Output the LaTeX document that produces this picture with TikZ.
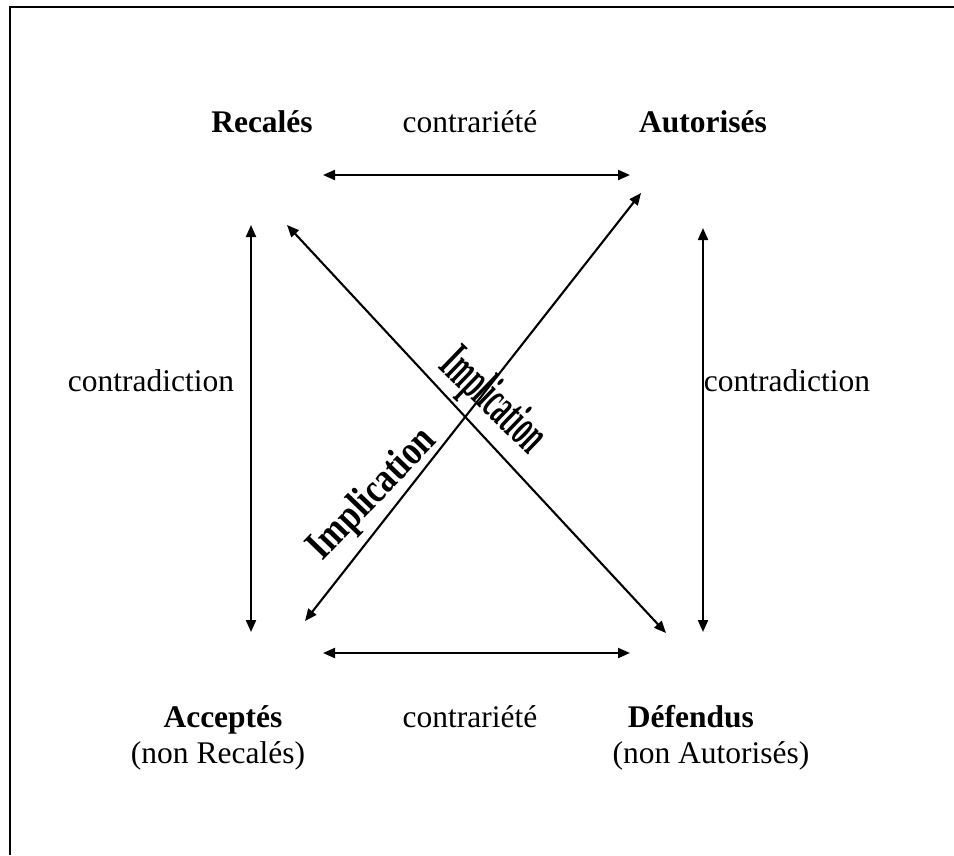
\documentclass[tikz,border=0pt]{standalone}
\usepackage{fontspec}
\setmainfont{Liberation Serif}
\usetikzlibrary{arrows.meta}
\begin{document}
\begin{tikzpicture}[x=1pt,y=-1pt,
  every node/.style={inner sep=0pt, font=\fontsize{31.5}{36}\selectfont},
  term/.style={font=\fontsize{31.5}{36}\selectfont\bfseries},
  link/.style={line width=2.1pt,
    {Triangle[length=12pt,width=10pt]}-{Triangle[length=12pt,width=10pt]}}]
\useasboundingbox (0,0) rectangle (954,855);
% frame (open at right and bottom)
\draw[line width=2.5pt] (10,855) -- (10,7) -- (954,7);

% corner terms and relation labels
\node[term, anchor=base] (rec) at (262,132) {Recalés};
\node[anchor=base] (ctop) at (470,132) {contrariété};
\node[term, anchor=base] (aut) at (703,132) {Autorisés};
\node[anchor=base] (cleft) at (151,391) {contradiction};
\node[anchor=base] (cright) at (787,391) {contradiction};
\node[term, anchor=base] (acc) at (223,727) {Acceptés};
\node[anchor=base] (accnote) at (218,763) {(non Recalés)};
\node[anchor=base] (cbot) at (470,727) {contrariété};
\node[term, anchor=base] (def) at (691,727) {Défendus};
\node[anchor=base] (defnote) at (711,763) {(non Autorisés)};

% arrow end points
\coordinate (topL) at (323,175);
\coordinate (topR) at (630,175);
\coordinate (botL) at (323,653);
\coordinate (botR) at (630,653);
\coordinate (leftT) at (251,225);
\coordinate (leftB) at (251,632);
\coordinate (rightT) at (703,228);
\coordinate (rightB) at (703,632);
\coordinate (recD) at (287,225);
\coordinate (defD) at (666,633);
\coordinate (accD) at (305,621);
\coordinate (autD) at (641,193);

\draw[link] (topL) -- (topR);
\draw[link] (botL) -- (botR);
\draw[link] (leftT) -- (leftB);
\draw[link] (rightT) -- (rightB);
\draw[link] (recD) -- (defD);
\draw[link] (accD) -- (autD);

% implication labels
\node[rotate=46] (implA) at (373,495)
  {\resizebox{166pt}{29pt}{\bfseries Implication}};
\node[rotate=-44] (implB) at (492,402)
  {\resizebox{126pt}{37pt}{\bfseries Implication}};
\end{tikzpicture}
\end{document}
